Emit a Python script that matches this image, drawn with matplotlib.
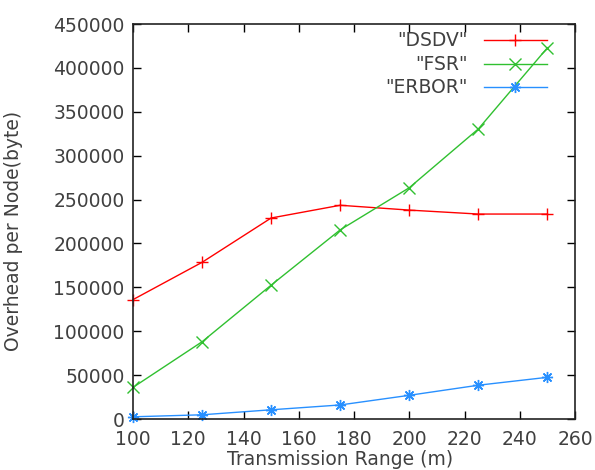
import matplotlib
matplotlib.use("Agg")
import matplotlib.pyplot as plt

ranges = [100, 125, 150, 175, 200, 225, 250]
dsdv = [136000, 178500, 229000, 243500, 238000, 233500, 233500]
fsr = [36000, 88000, 152500, 215500, 263500, 330500, 423000]
erbor = [2500, 4800, 10500, 16000, 27000, 38500, 47500]

series = [
    ('"DSDV"', dsdv, '#ff0000', '+'),
    ('"FSR"', fsr, '#30c030', 'x'),
    ('"ERBOR"', erbor, '#2890ff', (8, 2, 0)),
]

plt.rcParams['font.family'] = 'DejaVu Sans'
text_color = '#404040'
fs = 13.5

fig = plt.figure(figsize=(5.95, 4.70), dpi=100)
ax = fig.add_axes([0.2235, 0.1085, 0.743, 0.8404])

for name, vals, color, mk in series:
    ax.plot(ranges, vals, color=color, lw=1.0, marker=mk, ms=8, mew=1.0,
            clip_on=False)

ax.set_xlim(100, 260)
ax.set_ylim(0, 450000)
ax.set_xticks(range(100, 261, 20))
ax.set_yticks(range(0, 450001, 50000))
ax.tick_params(direction='in', length=6, width=1.0, top=True, right=True,
               labelsize=fs, labelcolor=text_color)
ax.tick_params(axis='x', pad=8)
ax.tick_params(axis='y', pad=6)
for s in ax.spines.values():
    s.set_linewidth(1.2)
    s.set_color('#222222')

ax.set_xlabel('Transmission Range (m)', fontsize=fs, color=text_color,
              va='center', ha='center')
ax.xaxis.set_label_coords(0.468, -0.102)
ax.set_ylabel('Overhead per Node(byte)', fontsize=fs, color=text_color,
              va='center', ha='center')
ax.yaxis.set_label_coords(-0.27, 0.475)

# key in the top right corner, titles right-aligned left of the samples
rows = [0.9595, 0.8987, 0.8405]
for (name, vals, color, mk), yy in zip(series, rows):
    ax.text(0.758, yy, name, transform=ax.transAxes, ha='right', va='center',
            fontsize=fs, color=text_color)
    ax.plot([0.794, 0.937], [yy, yy], transform=ax.transAxes, color=color, lw=1.0)
    ax.plot([0.865], [yy], transform=ax.transAxes, color=color, marker=mk,
            ms=8, mew=1.0)

fig.savefig('out.png', dpi=100)
